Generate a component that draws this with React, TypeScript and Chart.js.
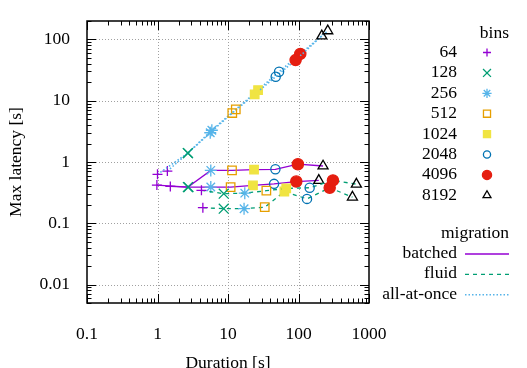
import React, { useEffect, useRef } from 'react';
import { Chart, registerables } from 'chart.js';

Chart.register(...registerables);

// ---- data ----
const bins = ['64', '128', '256', '512', '1024', '2048', '4096', '8192'];
const binColors = ['#9400d3', '#009e73', '#56b4e9', '#e69f00', '#f0e442', '#0072b2', '#e51e10', '#000000'];
const binStyles = ['cross', 'crossRot', 'star', 'rect', 'rect', 'circle', 'circle', 'triangle'];
const binFilled = [false, false, false, false, true, false, true, false];

const migrations = ['batched', 'fluid', 'all-at-once'];
const migrationColors = ['#9400d3', '#009e73', '#56b4e9'];

// batched (two runs)
const batched1Dur = [0.98, 2.7, 5.7, 11.4, 23.4, 47, 98, 223];
const batched1Lat = [0.42, 0.39, 0.73, 0.73, 0.75, 0.76, 0.92, 0.86];
const batched2Dur = [1.52, 2.75, 5.7, 10.9, 22.6, 45, 93, 194];
const batched2Lat = [0.4, 0.39, 0.39, 0.39, 0.415, 0.44, 0.48, 0.5];

// fluid (two runs)
const fluid1Dur = [4.2, 8.7, 17.3, 35, 67, 144, 308, 662];
const fluid1Lat = [0.345, 0.304, 0.31, 0.34, 0.37, 0.38, 0.5, 0.435];
const fluid2Dur = [4.4, 8.7, 16.9, 33.2, 63, 132, 277, 582];
const fluid2Lat = [0.18, 0.173, 0.173, 0.183, 0.33, 0.25, 0.38, 0.267];

// all-at-once (two runs)
const allAtOnce1Dur = [1.0, 2.7, 5.6, 11.5, 23.9, 47.5, 91, 214];
const allAtOnce1Lat = [0.63, 1.4, 3.0, 6.3, 12.7, 24.6, 46, 114];
const allAtOnce2Dur = [1.38, 2.7, 5.9, 12.9, 26.7, 53, 106, 260];
const allAtOnce2Lat = [0.71, 1.4, 3.3, 7.2, 14.9, 29.7, 58, 138];

const xTicks = [0.1, 1, 10, 100, 1000];
const yTicks = [0.01, 0.1, 1, 10, 100];
const xRange = [0.1, 1000];
const yRange = [0.005, 200];

const FONT = 'Liberation Serif';
const FS = 17.5;

const plotRadius = [5, 7, 6, 6, 6, 4.6, 5.6, 5.8];
const legendRadius = [4, 5.6, 4.6, 5, 5, 3.6, 4.6, 4.6];
const dashFor = (i: number) => (i === 0 ? [] : i === 1 ? [4, 4] : [1.5, 2]);

function series(dur: number[], lat: number[], mi: number, label: string) {
  return {
    label,
    data: dur.map((d, i) => ({ x: d, y: lat[i] })),
    borderColor: migrationColors[mi],
    borderWidth: mi === 2 ? 1.6 : 1.3,
    borderDash: dashFor(mi),
    tension: 0,
    fill: false,
    pointStyle: binStyles,
    pointRadius: plotRadius,
    pointHoverRadius: plotRadius,
    pointBorderColor: binColors,
    pointBackgroundColor: binColors.map((c, i) => (binFilled[i] ? c : 'rgba(0,0,0,0)')),
    pointBorderWidth: 1.3,
  };
}

function drawMarker(ctx: CanvasRenderingContext2D, style: string, x: number, y: number, r: number, color: string, filled: boolean) {
  ctx.save();
  ctx.strokeStyle = color;
  ctx.fillStyle = color;
  ctx.lineWidth = 1.3;
  ctx.setLineDash([]);
  ctx.beginPath();
  const d = r * Math.SQRT1_2;
  if (style === 'cross' || style === 'star') {
    ctx.moveTo(x - r, y); ctx.lineTo(x + r, y);
    ctx.moveTo(x, y - r); ctx.lineTo(x, y + r);
  }
  if (style === 'crossRot' || style === 'star') {
    ctx.moveTo(x - d, y - d); ctx.lineTo(x + d, y + d);
    ctx.moveTo(x - d, y + d); ctx.lineTo(x + d, y - d);
  }
  if (style === 'rect') ctx.rect(x - d, y - d, 2 * d, 2 * d);
  if (style === 'circle') ctx.arc(x, y, r, 0, Math.PI * 2);
  if (style === 'triangle') {
    for (let k = 0; k < 3; k++) {
      const a = (k * 2 * Math.PI) / 3;
      const px = x + Math.sin(a) * r, py = y - Math.cos(a) * r;
      if (k === 0) ctx.moveTo(px, py); else ctx.lineTo(px, py);
    }
    ctx.closePath();
  }
  if (filled) ctx.fill();
  ctx.stroke();
  ctx.restore();
}

const gnuFrame = {
  id: 'gnuFrame',
  beforeDatasetsDraw(chart: any) {
    const { ctx, chartArea, scales } = chart;
    const { left, right, top, bottom } = chartArea;
    ctx.save();
    ctx.strokeStyle = '#a0a0a0';
    ctx.lineWidth = 1;
    ctx.setLineDash([1, 2]);
    xTicks.forEach((v) => {
      const px = Math.round(scales.x.getPixelForValue(v)) + 0.5;
      if (px > left + 2 && px < right - 2) {
        ctx.beginPath(); ctx.moveTo(px, top); ctx.lineTo(px, bottom); ctx.stroke();
      }
    });
    yTicks.forEach((v) => {
      const py = Math.round(scales.y.getPixelForValue(v)) + 0.5;
      if (py > top + 2 && py < bottom - 2) {
        ctx.beginPath(); ctx.moveTo(left, py); ctx.lineTo(right, py); ctx.stroke();
      }
    });
    ctx.restore();
  },
  afterDatasetsDraw(chart: any) {
    const { ctx, chartArea, scales } = chart;
    const { left, right, top, bottom } = chartArea;
    ctx.save();
    ctx.strokeStyle = '#000';
    ctx.setLineDash([]);
    ctx.lineWidth = 1;
    const major = 9, minor = 4.5;
    for (let e = -1; e < 3; e++) {
      for (let m = 1; m <= 10; m++) {
        const v = m * Math.pow(10, e);
        if (v < xRange[0] || v > xRange[1]) continue;
        const len = m === 1 || m === 10 ? major : minor;
        const px = Math.round(scales.x.getPixelForValue(v)) + 0.5;
        ctx.beginPath();
        ctx.moveTo(px, bottom); ctx.lineTo(px, bottom - len);
        ctx.moveTo(px, top); ctx.lineTo(px, top + len);
        ctx.stroke();
      }
    }
    for (let e = -3; e < 3; e++) {
      for (let m = 1; m <= 9; m++) {
        const v = m * Math.pow(10, e);
        if (v < yRange[0] - 1e-9 || v > yRange[1] + 1e-9) continue;
        const len = m === 1 ? major : minor;
        const py = Math.round(scales.y.getPixelForValue(v)) + 0.5;
        ctx.beginPath();
        ctx.moveTo(left, py); ctx.lineTo(left + len, py);
        ctx.moveTo(right, py); ctx.lineTo(right - len, py);
        ctx.stroke();
      }
    }
    ctx.lineWidth = 1.5;
    ctx.strokeRect(left, top, right - left, bottom - top);
    ctx.restore();
  },
  afterDraw(chart: any) {
    const { ctx } = chart;
    ctx.save();
    ctx.font = `${FS}px "${FONT}"`;
    ctx.fillStyle = '#000';
    ctx.textBaseline = 'middle';
    ctx.textAlign = 'right';
    const titleRight = 509, labelRight = 457, markX = 487;
    ctx.fillText('bins', titleRight, 33);
    bins.forEach((b, i) => {
      const y = 52.5 + i * 20.4;
      ctx.fillStyle = '#000';
      ctx.fillText(b, labelRight, y);
      drawMarker(ctx, binStyles[i], markX, y, legendRadius[i], binColors[i], binFilled[i]);
    });
    ctx.fillStyle = '#000';
    ctx.fillText('migration', titleRight, 233);
    migrations.forEach((m, i) => {
      const y = 253.5 + i * 20.4;
      ctx.fillStyle = '#000';
      ctx.fillText(m, labelRight, y);
      ctx.save();
      ctx.strokeStyle = migrationColors[i];
      ctx.lineWidth = i === 2 ? 1.6 : 1.3;
      ctx.setLineDash(dashFor(i));
      ctx.beginPath();
      ctx.moveTo(465, y + 0.5); ctx.lineTo(509, y + 0.5);
      ctx.stroke();
      ctx.restore();
    });
    ctx.restore();
  },
};

export default function App() {
  const ref = useRef<HTMLCanvasElement | null>(null);
  useEffect(() => {
    if (!ref.current) return;
    const chart = new Chart(ref.current, {
      type: 'line',
      data: {
        datasets: [
          series(allAtOnce1Dur, allAtOnce1Lat, 2, 'all-at-once 1'),
          series(allAtOnce2Dur, allAtOnce2Lat, 2, 'all-at-once 2'),
          series(fluid1Dur, fluid1Lat, 1, 'fluid 1'),
          series(fluid2Dur, fluid2Lat, 1, 'fluid 2'),
          series(batched1Dur, batched1Lat, 0, 'batched 1'),
          series(batched2Dur, batched2Lat, 0, 'batched 2'),
        ] as any,
      },
      options: {
        animation: false,
        responsive: false,
        devicePixelRatio: 1,
        events: [],
        layout: { padding: { left: 0, right: 158, top: 21, bottom: 0 } },
        plugins: { legend: { display: false }, tooltip: { enabled: false } },
        scales: {
          x: {
            type: 'logarithmic',
            min: xRange[0],
            max: xRange[1],
            grid: { display: false },
            border: { display: false },
            afterBuildTicks: (s: any) => { s.ticks = xTicks.map((v) => ({ value: v })); },
            afterFit: (s: any) => { s.height = 65; },
            ticks: {
              autoSkip: false,
              maxRotation: 0,
              padding: 13,
              color: '#000',
              font: { family: FONT, size: FS },
              callback: (v: any) => String(v),
            },
            title: {
              display: true,
              text: 'Duration [s]',
              color: '#000',
              font: { family: FONT, size: FS },
              padding: { top: 0, bottom: -6 },
            },
          },
          y: {
            type: 'logarithmic',
            min: yRange[0],
            max: yRange[1],
            grid: { display: false },
            border: { display: false },
            afterBuildTicks: (s: any) => { s.ticks = yTicks.map((v) => ({ value: v })); },
            afterFit: (s: any) => { s.width = 87; },
            ticks: {
              autoSkip: false,
              padding: 9,
              color: '#000',
              font: { family: FONT, size: FS },
              callback: (v: any) => String(v),
            },
            title: {
              display: true,
              text: 'Max latency [s]',
              color: '#000',
              font: { family: FONT, size: FS },
              padding: { top: 6, bottom: 0 },
            },
          },
        },
      } as any,
      plugins: [gnuFrame],
    });
    return () => chart.destroy();
  }, []);
  return (
    <div style={{ position: 'absolute', left: 0, top: 0, width: 527, height: 368, background: '#fff' }}>
      <canvas ref={ref} width={527} height={368} style={{ display: 'block' }} />
    </div>
  );
}
